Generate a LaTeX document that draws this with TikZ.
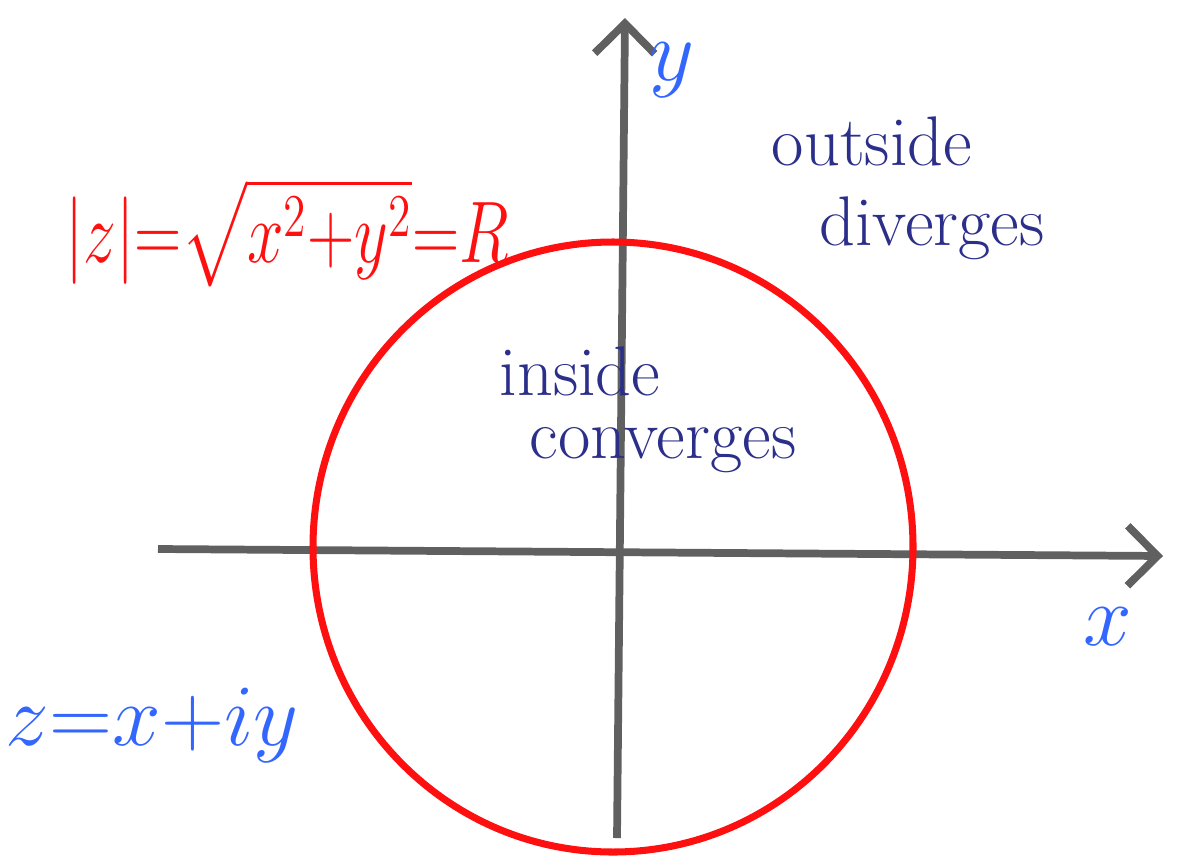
\documentclass[tikz,border=0pt]{standalone}
\usepackage{amsmath}
\usetikzlibrary{arrows.meta}

\definecolor{axisgray}{HTML}{606060}
\definecolor{penred}{HTML}{FF1010}
\definecolor{penblue}{HTML}{3366FF}
\definecolor{pennavy}{HTML}{2B2F8A}

\begin{document}
\begin{tikzpicture}[
  axis/.style={draw=axisgray, line width=2.2pt,
    -{Straight Barb[length=3mm, width=6mm, line width=2.2pt]}},
  circ/.style={draw=penred, line width=2pt},
  redtxt/.style={text=penred, anchor=base, inner sep=1pt,
    font=\fontsize{21}{25}\selectfont},
  bluetxt/.style={text=penblue, anchor=base, inner sep=1pt,
    font=\fontsize{24}{29}\selectfont},
  navytxt/.style={text=pennavy, anchor=base, inner sep=1pt,
    font=\fontsize{20}{24}\selectfont},
]
\useasboundingbox (0,0) rectangle (11.81,-8.57);

%% axes
\coordinate (xstart) at (1.58,-5.49);
\coordinate (xend)   at (11.63,-5.56);
\coordinate (ystart) at (6.17,-8.38);
\coordinate (yend)   at (6.25,-0.18);
\draw[axis] (xstart) -- (xend);
\draw[axis] (ystart) -- (yend);

%% circle |z| = R
\coordinate (center) at (6.13,-5.47);
\draw[circ] (center) ellipse [x radius=3.0, y radius=3.05];

%% labels
\node[bluetxt] (ylab) at (6.72,-0.80) {$y$};
\node[bluetxt] (xlab) at (11.08,-6.45) {$x$};
\node[redtxt] (modz) at (2.87,-2.62)
  {\scalebox{0.9}[1.2]{$|z|{=}\sqrt{x^2{+}y^2}{=}R$}};
\node[bluetxt] (zdef) at (1.52,-7.45) {$z{=}x{+}iy$};

\node[navytxt] (outs) at (8.72,-1.65) {outside};
\node[navytxt] (divg) at (9.32,-2.45) {diverges};
\node[navytxt] (ins)  at (5.80,-3.95) {inside};
\node[navytxt] (conv) at (6.63,-4.58) {converges};

\end{tikzpicture}
\end{document}
